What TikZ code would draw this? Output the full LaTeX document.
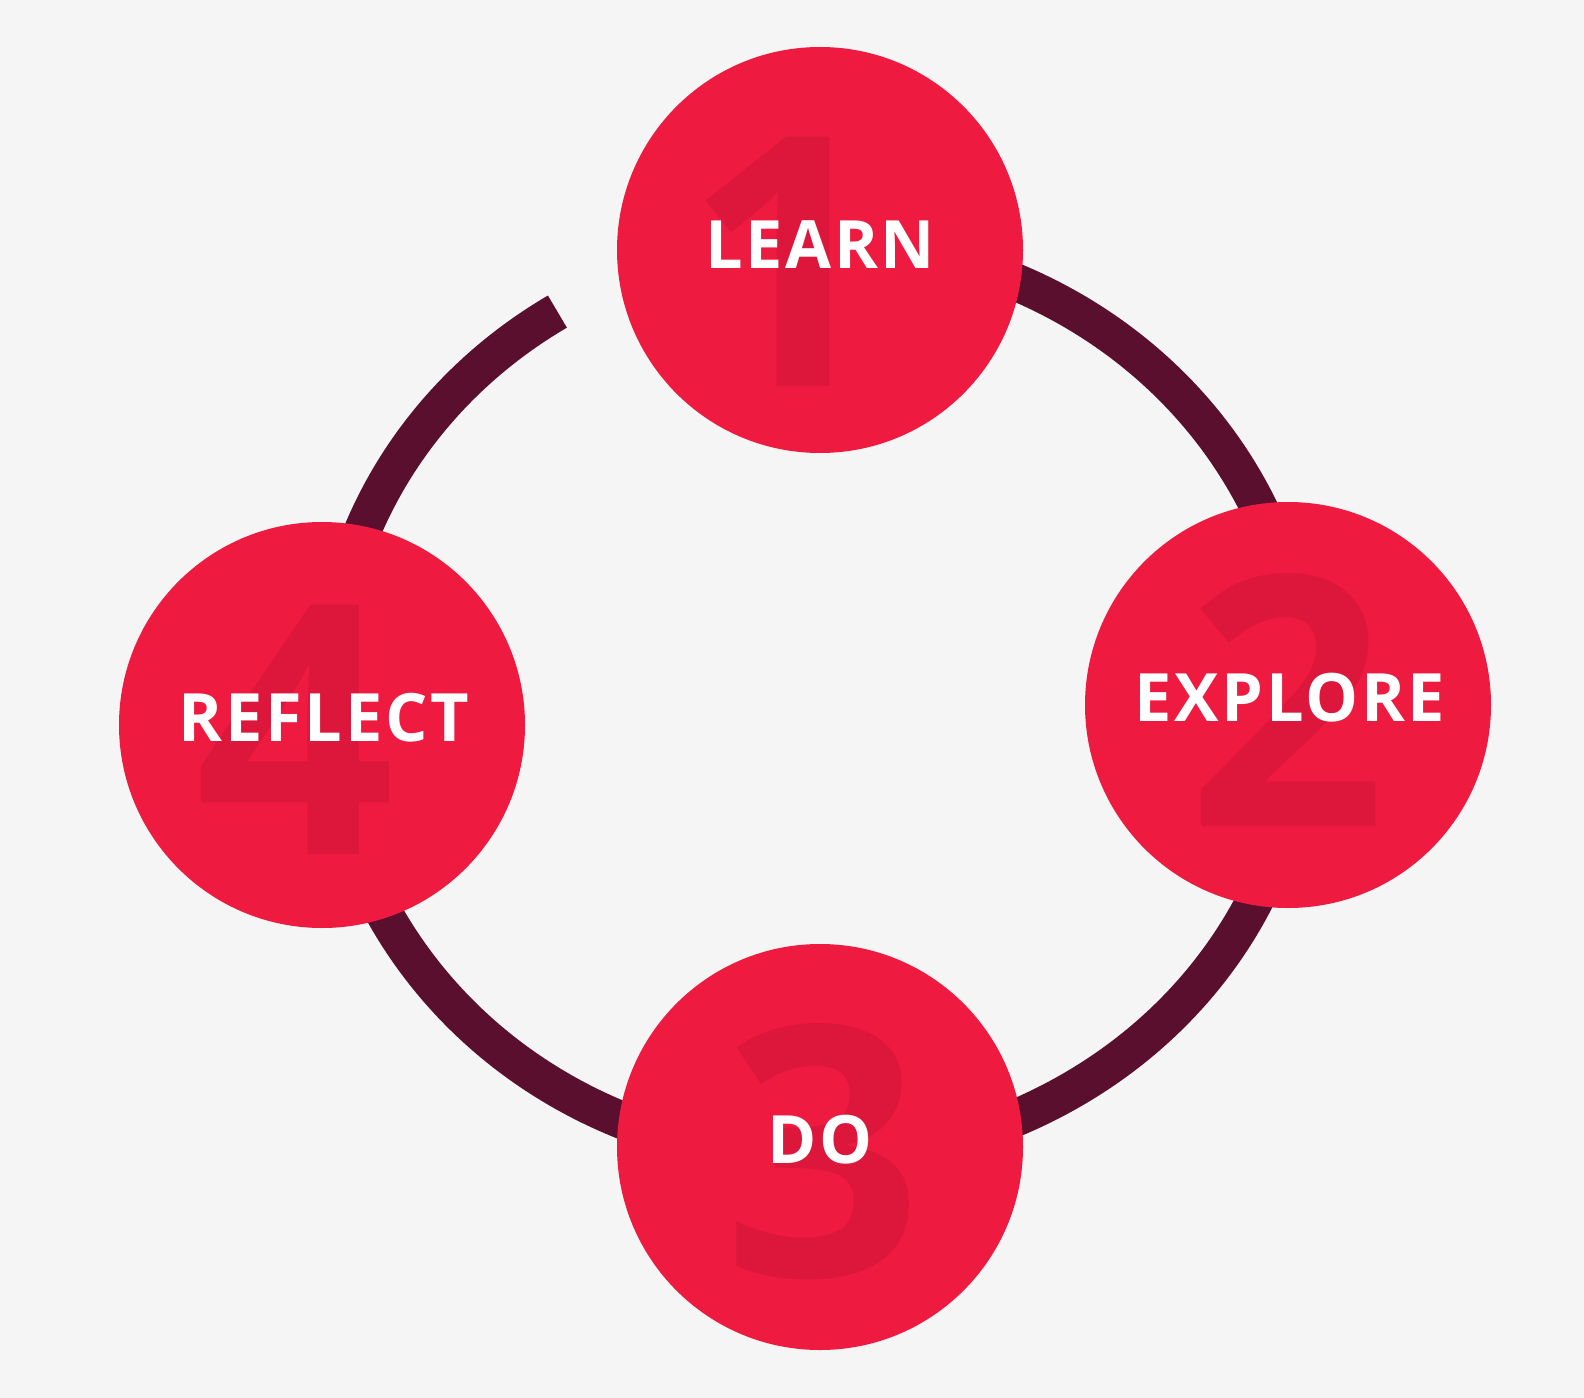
\documentclass[tikz,border=0pt]{standalone}
\usepackage{fontspec}
\setmainfont{Open Sans}
\definecolor{bg}{HTML}{F5F5F5}
\definecolor{ring}{HTML}{5A0F2E}
\definecolor{disc}{HTML}{EE1A3F}
\definecolor{digit}{HTML}{DD163C}
\begin{document}
\begin{tikzpicture}[x=0.75pt,y=-0.75pt,
  stage/.style={circle,fill=disc,minimum size=304.5pt,inner sep=0pt},
  num/.style={text=digit,font=\fontsize{262}{262}\selectfont\bfseries},
  lab/.style={text=white,font=\fontsize{50}{50}\selectfont\bfseries\addfontfeatures{LetterSpace=4}}]
\fill[bg] (0,0) rectangle (1584,1398);
\useasboundingbox (0,0) rectangle (1584,1398);
\coordinate (c) at (816,700);
\draw[ring,line width=28pt] (c) ++(-122:488 and 458) arc[start angle=-122,end angle=-440,x radius=488,y radius=458];
\node[stage] (learn) at (820,250) {};
\node[stage] (explore) at (1288,705) {};
\node[stage] (do) at (820,1147) {};
\node[stage] (reflect) at (322,725) {};
\node[num] (n1) at (785,262) {1};
\node[num] (n2) at (1287,700) {2};
\node[num] (n3) at (823,1152) {3};
\node[num] (n4) at (295,730) {4};
\node[lab] (t1) at (820,245) {LEARN};
\node[lab] (t2) at (1290,698) {EXPLORE};
\node[lab] (t3) at (820,1140) {DO};
\node[lab] (t4) at (324,718) {REFLECT};
\end{tikzpicture}
\end{document}
